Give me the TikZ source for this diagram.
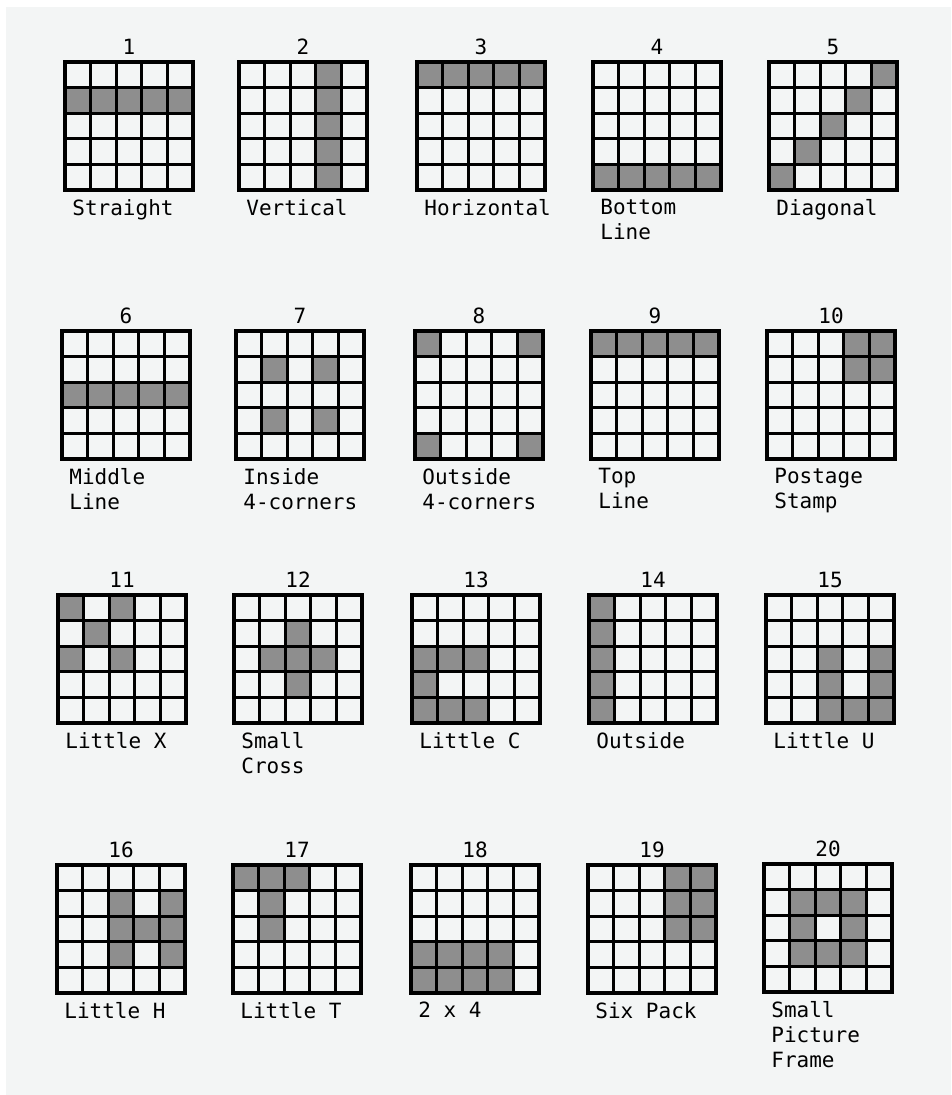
\documentclass[tikz,border=0pt]{standalone}
\usepackage{fontspec}
\setmonofont{DejaVu Sans Mono}
\usepackage{tikz}

\definecolor{scan}{HTML}{F3F5F5}
\definecolor{dots}{HTML}{8E8E8E}

\begin{document}
\begin{tikzpicture}[x=0.5pt,y=-0.5pt,
  txt/.style={font=\ttfamily\fontsize{10.5}{12.5}\selectfont,inner sep=0pt},
  cell/.style={fill=dots},
  rule/.style={line width=1.6pt},
  frame/.style={line width=2.2pt}]
  \useasboundingbox (0,0) rectangle (951,1095);
  \fill[scan] (6,7) rectangle (951,1095);
  % number / left / top / shaded cells (row/column) / name
  \foreach \k/\x/\y/\on/\name in {
    1/65/62/{2/1,2/2,2/3,2/4,2/5}/{Straight},
    2/239/62/{1/4,2/4,3/4,4/4,5/4}/{Vertical},
    3/417/62/{1/1,1/2,1/3,1/4,1/5}/{Horizontal},
    4/593/62/{5/1,5/2,5/3,5/4,5/5}/{Bottom\\Line},
    5/769/62/{1/5,2/4,3/3,4/2,5/1}/{Diagonal},
    6/62/331/{3/1,3/2,3/3,3/4,3/5}/{Middle\\Line},
    7/236/331/{2/2,2/4,4/2,4/4}/{Inside\\4-corners},
    8/415/331/{1/1,1/5,5/1,5/5}/{Outside\\4-corners},
    9/591/331/{1/1,1/2,1/3,1/4,1/5}/{Top\\Line},
    10/767/331/{1/4,1/5,2/4,2/5}/{Postage\\Stamp},
    11/58/595/{1/1,1/3,2/2,3/1,3/3}/{Little X},
    12/234/595/{2/3,3/2,3/3,3/4,4/3}/{Small\\Cross},
    13/412/595/{3/1,3/2,3/3,4/1,5/1,5/2,5/3}/{Little C},
    14/589/595/{1/1,2/1,3/1,4/1,5/1}/{Outside},
    15/766/595/{3/3,3/5,4/3,4/5,5/3,5/4,5/5}/{Little U},
    16/57/865/{2/3,2/5,3/3,3/4,3/5,4/3,4/5}/{Little H},
    17/233/865/{1/1,1/2,1/3,2/2,3/2}/{Little T},
    18/411/865/{4/1,4/2,4/3,4/4,5/1,5/2,5/3,5/4}/{2 x 4},
    19/588/865/{1/4,1/5,2/4,2/5,3/4,3/5}/{Six Pack},
    20/764/864/{2/2,2/3,2/4,3/2,3/4,4/2,4/3,4/4}/{Small\\Picture\\Frame}}
  {
    \foreach \r/\c in \on
      \fill[cell] (\x+25.6*\c-25.6,\y+25.6*\r-25.6) rectangle ++(25.6,25.6);
    \foreach \i in {1,...,4} {
      \draw[rule] (\x+25.6*\i,\y) -- ++(0,128);
      \draw[rule] (\x,\y+25.6*\i) -- ++(128,0);
    }
    \draw[frame] (\x,\y) rectangle ++(128,128);
    \node[txt,anchor=south] (num\k) at (\x+64,\y-7) {\k};
    \node[txt,anchor=north west,align=left] (lab\k) at (\x+7,\y+137) {\name};
  }
\end{tikzpicture}
\end{document}
